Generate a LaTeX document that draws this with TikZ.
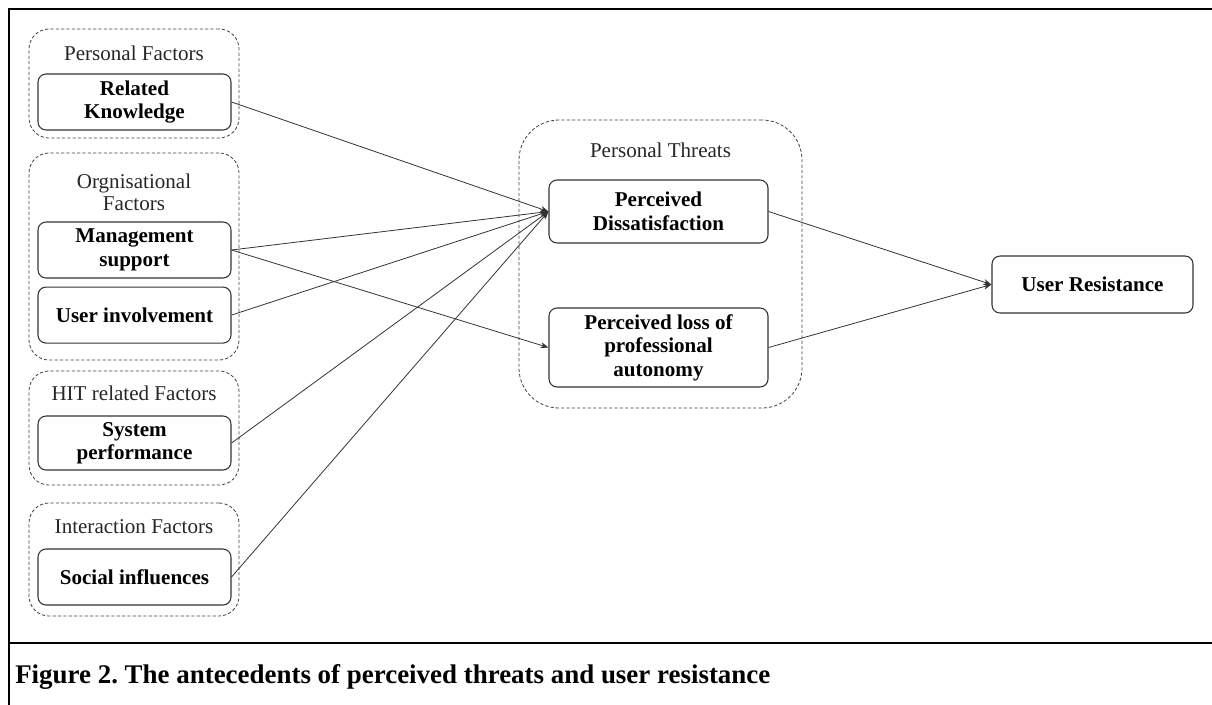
\documentclass[tikz,border=0pt]{standalone}
\usepackage{fontspec}
\setmainfont{Liberation Serif}
\usepackage{tikz}
\usetikzlibrary{arrows.meta, positioning, fit}
\frenchspacing
\tikzstyle{factor} = [rectangle, rounded corners=6pt, minimum width=144.75pt, minimum height=42pt, text centered, align=center, draw=black!80, line width=0.8pt, inner sep=2pt, font=\fontsize{15.8}{17.6}\selectfont\bfseries]
\tikzstyle{threat} = [factor, minimum width=164.25pt]
\tikzstyle{outcome} = [factor, minimum width=150.75pt, minimum height=42.75pt]
\tikzstyle{group} = [rectangle, rounded corners=15pt, draw=black!75, dash pattern=on 2.4pt off 1.6pt, line width=0.6pt, inner sep=0pt]
\tikzstyle{grouplabel} = [align=center, inner sep=0pt, text=black!85, font=\fontsize{15.8}{16.4}\selectfont]
\tikzstyle{arrow} = [line width=0.6pt, draw=black!80, -{Stealth[length=6pt, width=4.5pt]}]
\tikzstyle{frame} = [line width=1.6pt]

\begin{document}
\begin{tikzpicture}[x=0.75pt, y=-0.75pt, node distance=6pt]
    \useasboundingbox (0,0) rectangle (1212,704);
    \draw [frame] (1220,9) -- (9,9) -- (9,710);
    \draw [frame] (9,643) -- (1220,643);
    \node (caption) [anchor=base west, inner sep=0pt, font=\fontsize{20.2}{24}\selectfont\bfseries] at (15,683) {Figure 2. The antecedents of perceived threats and user resistance};

    \node (pfgrp) [group, fit={(29,29) (239,138)}] {};
    \node (orggrp) [group, fit={(29,153) (239,360)}] {};
    \node (hitgrp) [group, fit={(29,371) (239,485)}] {};
    \node (intgrp) [group, fit={(29,503) (239,616)}] {};
    \node (ptgrp) [group, rounded corners=30pt, fit={(519,120) (802,408)}] {};

    \node (pflabel) [grouplabel] at (134,53) {Personal Factors};
    \node (orglabel) [grouplabel] at (134,192.5) {Orgnisational\\Factors};
    \node (hitlabel) [grouplabel] at (134,393) {HIT related Factors};
    \node (intlabel) [grouplabel] at (134,527) {Interaction Factors};
    \node (ptlabel) [grouplabel] at (660.5,150) {Personal Threats};

    \node (rk) [factor] at (134.5,102) {Related\\Knowledge};
    \node (ms) [factor] at (134.5,250) {Management\\support};
    \node (ui) [factor, below=of ms] {User involvement};
    \node (sp) [factor, minimum height=40.5pt] at (134.5,443) {System\\performance};
    \node (si) [factor] at (134.5,577) {Social influences};
    \node (pd) [threat, minimum height=47.25pt] at (658.5,211.5) {Perceived\\Dissatisfaction};
    \node (pl) [threat, minimum height=59.25pt] at (658.5,347.5) {Perceived loss of\\professional\\autonomy};
    \node (ur) [outcome] at (1092.5,284.5) {User Resistance};

    \draw [arrow] (rk.east) -- (pd.west);
    \draw [arrow] (ms.east) -- (pd.west);
    \draw [arrow] (ui.east) -- (pd.west);
    \draw [arrow] (sp.east) -- (pd.west);
    \draw [arrow] (si.east) -- (pd.west);
    \draw [arrow] (ms.east) -- (pl.west);
    \draw [arrow] (pd.east) -- (ur.west);
    \draw [arrow] (pl.east) -- (ur.west);
\end{tikzpicture}
\end{document}
